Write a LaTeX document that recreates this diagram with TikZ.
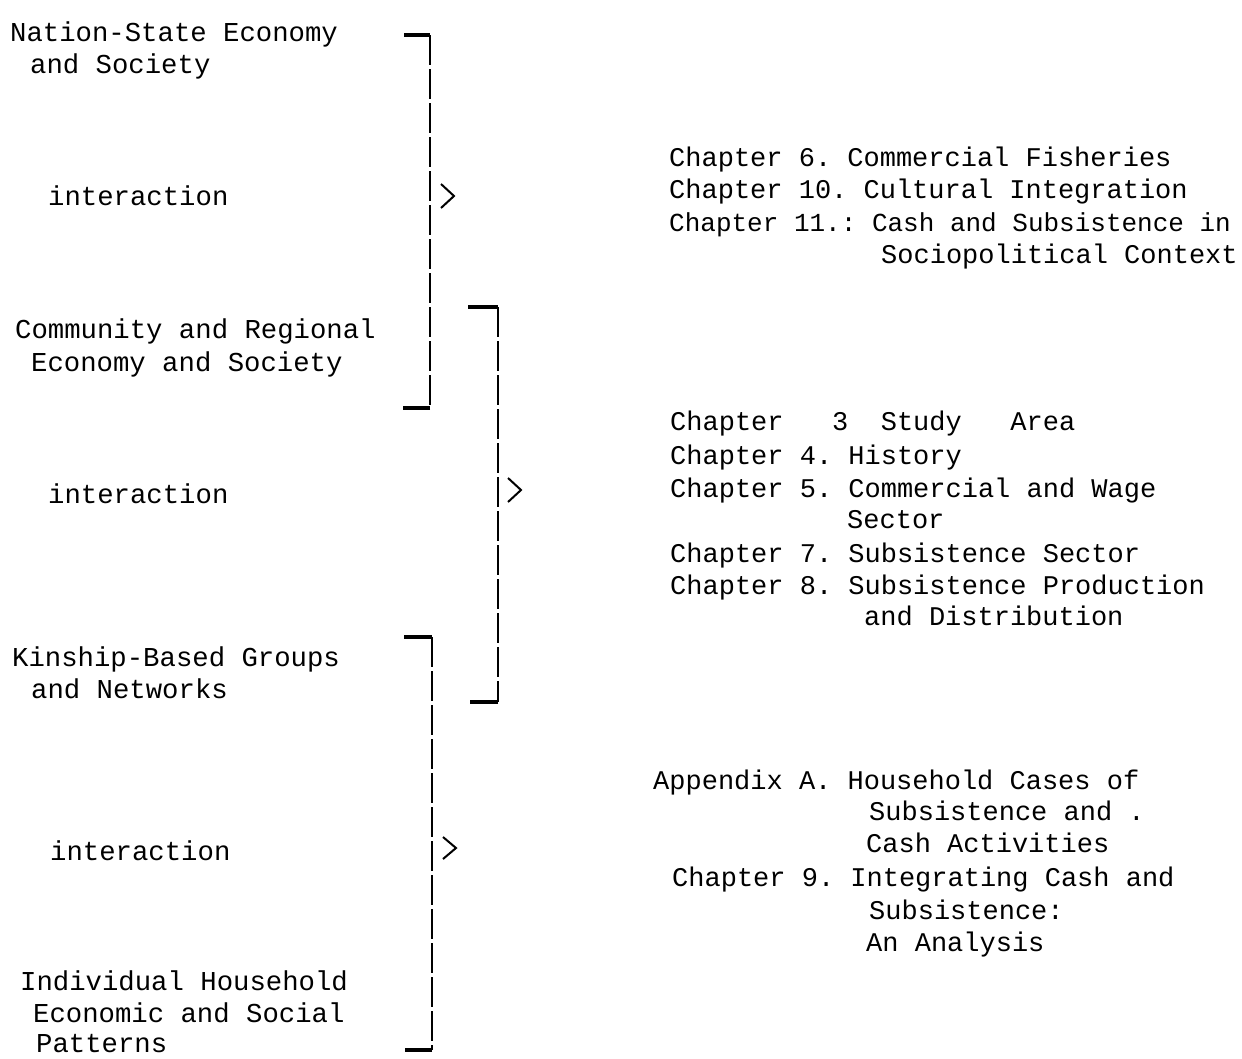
\documentclass[tikz,border=0pt]{standalone}
\usepackage{fontspec}
\setmonofont{Liberation Mono}
\usepackage{tikz}
\usetikzlibrary{positioning}
\tikzset{
    level/.style={anchor=base west, inner sep=0pt, font=\ttfamily\fontsize{27.3}{32}\selectfont},
    chapter/.style={anchor=base west, inner sep=0pt, font=\ttfamily\fontsize{27}{32}\selectfont},
    stem/.style={line width=2pt, dash pattern=on 30pt off 4pt},
    tick/.style={line width=3.2pt},
    chevron/.style={line width=2pt, line join=miter}
}
\begin{document}
\begin{tikzpicture} [x=1pt, y=-1pt]
    \useasboundingbox (0,0) rectangle (1242,1058);

    % Levels
    \node[level] (nation1) at (10,41) {Nation-State Economy};
    \node[level] (nation2) at (30,73) {and Society};
    \node[level] (inter1) at (48,205) {interaction};
    \node[level] (comm1) at (15,338) {Community and Regional};
    \node[level] (comm2) at (31,371) {Economy and Society};
    \node[level] (inter2) at (48,503) {interaction};
    \node[level] (kin1) at (12,666) {Kinship-Based Groups};
    \node[level] (kin2) at (31,698) {and Networks};
    \node[level] (inter3) at (50,860) {interaction};
    \node[level] (house1) at (20,990) {Individual Household};
    \node[level] (house2) at (33,1022) {Economic and Social};
    \node[level] (house3) at (36,1052) {Patterns};

    % National chapters
    \node[chapter] (ch6) at (669,166) {Chapter 6. Commercial Fisheries};
    \node[chapter] (ch10) at (669,198) {Chapter 10. Cultural Integration};
    \node[chapter, font=\ttfamily\fontsize{26}{32}\selectfont] (ch11) at (669,231) {Chapter 11.: Cash and Subsistence in};
    \node[chapter] (ch11b) at (881,263) {Sociopolitical Context};

    % Regional chapters
    \node[chapter] (ch3) at (670,430) {Chapter~~~3~~Study~~~Area};
    \node[chapter] (ch4) at (670,464) {Chapter 4. History};
    \node[chapter] (ch5) at (670,497) {Chapter 5. Commercial and Wage};
    \node[chapter] (ch5b) at (847,528) {Sector};
    \node[chapter] (ch7) at (670,562) {Chapter 7. Subsistence Sector};
    \node[chapter] (ch8) at (670,594) {Chapter 8. Subsistence Production};
    \node[chapter] (ch8b) at (864,625) {and Distribution};

    % Household chapters
    \node[chapter] (appA) at (653,789) {Appendix A. Household Cases of};
    \node[chapter] (appAb) at (869,820) {Subsistence and .};
    \node[chapter] (appAc) at (866,852) {Cash Activities};
    \node[chapter] (ch9) at (672,886) {Chapter 9. Integrating Cash and};
    \node[chapter] (ch9b) at (869,919) {Subsistence:};
    \node[chapter] (ch9c) at (866,951) {An Analysis};

    % Bracket corners
    \coordinate (b1a) at (404,35);
    \coordinate (b1top) at (430,35);
    \coordinate (b1bot) at (430,408);
    \coordinate (b1b) at (403,408);
    \coordinate (b2a) at (468,307);
    \coordinate (b2top) at (498,307);
    \coordinate (b2bot) at (498,702);
    \coordinate (b2b) at (470,702);
    \coordinate (b3a) at (404,637);
    \coordinate (b3top) at (432,637);
    \coordinate (b3bot) at (432,1050);
    \coordinate (b3b) at (405,1050);

    % Brackets
    \draw[tick] (b1a) -- (b1top);
    \draw[stem] (b1top) -- (b1bot);
    \draw[tick] (b1bot) -- (b1b);
    \draw[tick] (b2a) -- (b2top);
    \draw[stem] (b2top) -- (b2bot);
    \draw[tick] (b2bot) -- (b2b);
    \draw[tick] (b3a) -- (b3top);
    \draw[stem] (b3top) -- (b3bot);
    \draw[tick] (b3bot) -- (b3b);

    % Arrows
    \coordinate (arr1) at (441,196);
    \coordinate (arr2) at (508,490);
    \coordinate (arr3) at (443,848);
    \draw[chevron] (arr1) ++(0,-12) -- ++(13,12) -- ++(-13,12);
    \draw[chevron] (arr2) ++(0,-12) -- ++(13,12) -- ++(-13,12);
    \draw[chevron] (arr3) ++(0,-11) -- ++(13,11) -- ++(-13,11);
\end{tikzpicture}
\end{document}
